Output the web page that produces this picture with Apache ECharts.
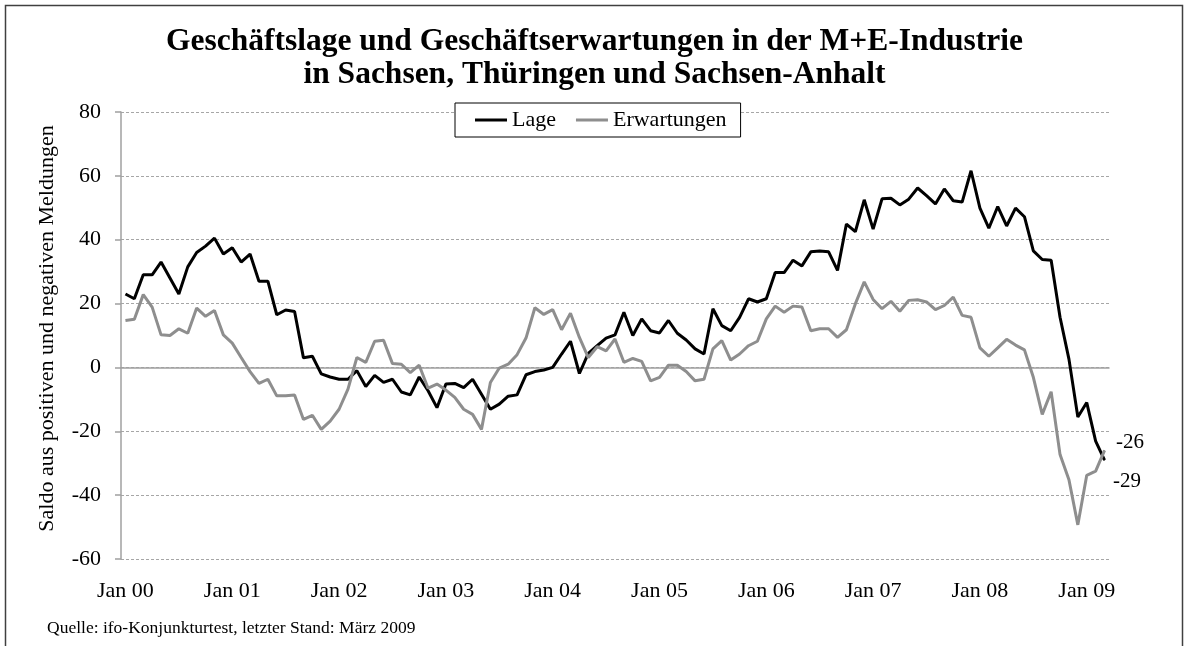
<!DOCTYPE html>
<html>
<head>
<meta charset="utf-8">
<script src="https://cdn.jsdelivr.net/npm/echarts@6/dist/echarts.min.js"></script>
<style>
  html, body { margin: 0; padding: 0; background: #fff; }
  #chart { width: 1189px; height: 646px; }
</style>
</head>
<body>
<div id="chart"></div>
<script>
// Monate Jan 2000 .. Mär 2009
var years = ['00', '01', '02', '03', '04', '05', '06', '07', '08', '09']
var months = ['Jan', 'Feb', 'Mär', 'Apr', 'Mai', 'Jun', 'Jul', 'Aug', 'Sep', 'Okt', 'Nov', 'Dez']
var lastYearMonths = 3

// Saldo Geschäftslage
var lage = [
  23, 21.5, 29, 29, 33, 28, 23, 31.5, 36, 38, 40.5, 35.5,
  37.5, 33, 35.5, 27, 27, 16.5, 18, 17.5, 3, 3.5, -2, -3,
  -3.7, -3.7, -1, -6, -2.5, -4.7, -3.7, -7.7, -8.6, -3, -7.3, -12.6,
  -5.2, -5, -6.3, -3.7, -8.4, -13.1, -11.5, -9, -8.6, -2.3, -1.3, -0.8,
  0, 4.2, 8.2, -1.9, 4.4, 6.8, 9.2, 10.2, 17.3, 10, 15.2, 11.5,
  10.8, 14.7, 10.7, 8.6, 5.8, 4.2, 18.4, 13.1, 11.5, 15.7, 21.5, 20.5,
  21.5, 29.7, 29.7, 33.6, 31.8, 36.2, 36.5, 36.2, 30.4, 44.9, 42.5, 52.5,
  43.3, 52.8, 53, 50.9, 52.7, 56.2, 53.8, 51.2, 55.9, 52.2, 51.8, 61.6,
  49.9, 43.6, 50.4, 44.3, 49.9, 47.2, 36.5, 33.8, 33.6, 15.7, 2.6, -15.5,
  -11, -23.1, -29
]

// Saldo Geschäftserwartungen
var erwartungen = [
  14.7, 15.1, 22.8, 18.9, 10.2, 10, 12.1, 10.7, 18.6, 16, 17.8, 10.2,
  7.6, 3.1, -1.3, -5, -3.7, -8.9, -8.9, -8.6, -16.3, -15, -19.4, -16.8,
  -13.1, -6.8, 3.1, 1.6, 8.2, 8.5, 1.2, 1, -1.6, 0.7, -6.5, -5.2,
  -7.1, -9.4, -13.1, -14.7, -19.4, -4.7, -0.2, 1, 4, 9.2, 18.7, 16.6,
  18.1, 11.8, 17, 9.4, 3.1, 6.5, 5.2, 8.9, 1.6, 2.8, 1.9, -4.2,
  -3.1, 0.7, 0.7, -1.3, -4.2, -3.7, 5.8, 8.4, 2.3, 4.2, 6.8, 8.2,
  15.2, 19.2, 17.3, 19.2, 18.9, 11.5, 12.1, 12.1, 9.4, 11.8, 19.9, 26.8,
  21.3, 18.4, 20.7, 17.6, 21, 21.2, 20.5, 18.1, 19.4, 22, 16.3, 15.7,
  6.1, 3.5, 6.1, 8.8, 7, 5.5, -3.1, -14.7, -7.6, -27.3, -35.2, -49.3,
  -33.8, -32.5, -26
]

var yTicks = { min: -60, max: 80, interval: 20 }

var categories = []
years.forEach(function (y, yi) {
  var n = yi === years.length - 1 ? lastYearMonths : 12
  for (var m = 0; m < n; m++) categories.push(months[m] + ' ' + y)
})

var font = '"Liberation Serif", "Times New Roman", serif'

// nur letzter Wert beschriftet (Linie ohne Symbole, daher Mini-Symbol am Ende)
function withEndLabel (arr, offset) {
  return arr.map(function (v, i) {
    if (i !== arr.length - 1) return v
    return {
      value: v,
      symbol: 'circle',
      symbolSize: 1,
      label: {
        show: true,
        position: 'right',
        distance: 5,
        offset: offset,
        formatter: function (p) { return Math.round(p.value) },
        fontFamily: font,
        fontSize: 21,
        color: '#000'
      }
    }
  })
}

var myChart = echarts.init(document.getElementById('chart'))

var option = {
  backgroundColor: '#fff',
  animation: false,
  textStyle: { fontFamily: font },
  title: [{
    text: 'Geschäftslage und Geschäftserwartungen in der M+E-Industrie\nin Sachsen, Thüringen und Sachsen-Anhalt',
    left: 'center',
    top: 20,
    textStyle: {
      fontFamily: font,
      fontSize: 31.5,
      fontWeight: 'bold',
      color: '#000',
      lineHeight: 33
    }
  }, {
    text: 'Quelle: ifo-Konjunkturtest, letzter Stand: März 2009',
    left: 42,
    top: 614,
    textStyle: {
      fontFamily: font,
      fontSize: 17.5,
      fontWeight: 'normal',
      color: '#000'
    }
  }],
  legend: {
    data: ['Lage', 'Erwartungen'],
    left: 455,
    top: 103,
    padding: [6, 14, 6, 20],
    icon: 'rect',
    itemWidth: 32,
    itemHeight: 3,
    itemGap: 20,
    backgroundColor: '#fff',
    borderColor: '#000',
    borderWidth: 1,
    textStyle: {
      fontFamily: font,
      fontSize: 22,
      color: '#000'
    }
  },
  grid: {
    left: 121,
    right: 80,
    top: 112,
    bottom: 87,
    containLabel: false
  },
  xAxis: [{
    type: 'category',
    data: categories,
    position: 'bottom',
    axisLine: { show: false, onZero: false },
    axisTick: { show: false },
    axisLabel: {
      interval: 11,
      margin: 21,
      fontFamily: font,
      fontSize: 22,
      color: '#000'
    }
  }, {
    // Nulllinie mit Jahresstrichen
    type: 'category',
    data: categories,
    position: 'bottom',
    axisLine: {
      onZero: true,
      lineStyle: { color: '#a0a0a0', width: 1.5 }
    },
    axisTick: {
      interval: 11,
      length: 6,
      lineStyle: { color: '#a0a0a0', width: 1.5 }
    },
    axisLabel: { show: false },
    splitLine: { show: false }
  }],
  yAxis: {
    type: 'value',
    min: yTicks.min,
    max: yTicks.max,
    interval: yTicks.interval,
    name: 'Saldo aus positiven und negativen Meldungen',
    nameLocation: 'middle',
    nameGap: 63,
    nameTextStyle: {
      fontFamily: font,
      fontSize: 22,
      color: '#000',
      padding: [0, 0, 0, 14]
    },
    axisLine: {
      show: true,
      lineStyle: { color: '#a0a0a0', width: 1.5 }
    },
    axisTick: {
      show: true,
      length: 6,
      lineStyle: { color: '#a0a0a0', width: 1.5 }
    },
    axisLabel: {
      margin: 20,
      fontFamily: font,
      fontSize: 22,
      color: '#000'
    },
    splitLine: {
      lineStyle: { color: '#a6a6a6', width: 1, type: [3, 2] }
    }
  },
  graphic: [{
    type: 'rect',
    shape: { x: 5.5, y: 5.5, width: 1177, height: 700 },
    style: { fill: null, stroke: '#404040', lineWidth: 1.5 },
    silent: true
  }],
  series: [{
    name: 'Lage',
    type: 'line',
    symbol: 'none',
    showAllSymbol: true,
    xAxisIndex: 0,
    lineStyle: { color: '#000', width: 3 },
    itemStyle: { color: '#000' },
    data: withEndLabel(lage, [3, 21])
  }, {
    name: 'Erwartungen',
    type: 'line',
    symbol: 'none',
    showAllSymbol: true,
    xAxisIndex: 0,
    lineStyle: { color: '#8e8e8e', width: 3 },
    itemStyle: { color: '#8e8e8e' },
    data: withEndLabel(erwartungen, [6, -8])
  }]
}

myChart.setOption(option)
window.addEventListener('resize', function () {
  myChart.resize()
})
</script>
</body>
</html>
